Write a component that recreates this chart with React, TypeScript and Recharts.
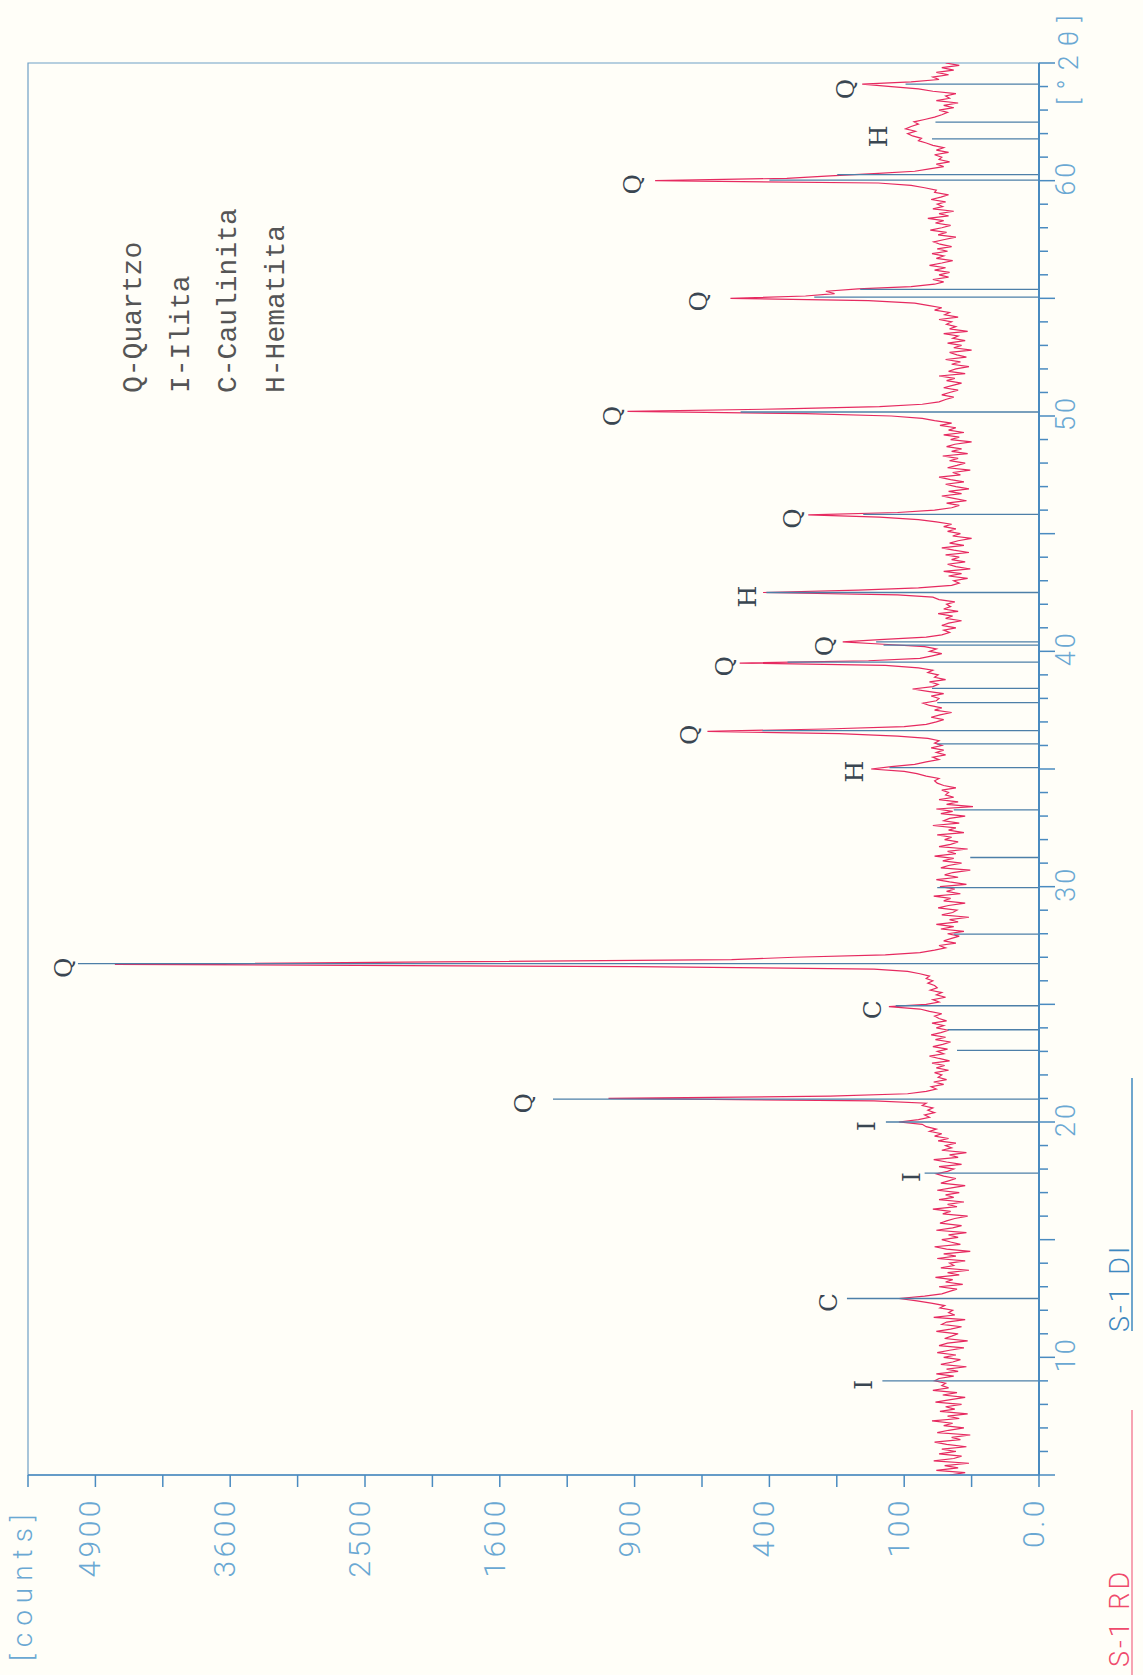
import React from "react";
import {
  ComposedChart,
  Line,
  Scatter,
  XAxis,
  YAxis,
  ReferenceLine,
  ReferenceArea,
} from "recharts";

// diffractogram S-1, scan 5.0 .. 65.0 °2θ, step 0.1
const scanStart = 5;
const scanStep = 0.1;
// counts per step (one row = one degree)
const counts = [
  44, 30, 58, 36, 49, 27, 61, 40, 33, 55, // 5
  38, 52, 29, 47, 60, 34, 42, 26, 57, 45, // 6
  31, 50, 41, 63, 35, 46, 28, 54, 39, 48, // 7
  33, 59, 43, 30, 51, 37, 62, 45, 52, 48, // 8
  60, 55, 40, 58, 36, 47, 29, 53, 41, 34, // 9
  50, 38, 57, 44, 31, 55, 46, 28, 49, 42, // 10
  36, 58, 43, 33, 52, 47, 30, 61, 39, 45, // 11
  41, 54, 49, 64, 82, 108, 72, 52, 44, 37, // 12
  55, 32, 48, 41, 59, 35, 46, 27, 53, 40, // 13
  44, 30, 57, 38, 50, 26, 47, 60, 34, 43, // 14
  52, 36, 45, 29, 58, 41, 33, 54, 47, 39, // 15
  28, 51, 43, 62, 37, 46, 31, 55, 40, 48, // 16
  35, 57, 42, 30, 53, 45, 38, 50, 58, 46, // 17
  40, 55, 33, 47, 61, 36, 44, 29, 52, 42, // 18
  48, 38, 56, 45, 60, 52, 66, 58, 70, 75, // 19
  108, 80, 66, 72, 60, 68, 62, 75, 70, 150, // 20
  1020, 240, 95, 70, 58, 64, 50, 61, 47, 56, // 21
  52, 60, 45, 58, 49, 63, 44, 55, 66, 50, // 22
  57, 46, 62, 51, 43, 59, 48, 64, 53, 45, // 23
  58, 50, 63, 47, 55, 60, 52, 66, 78, 124, // 24
  70, 55, 62, 48, 58, 52, 65, 57, 60, 68, // 25
  62, 70, 66, 78, 95, 150, 900, 4700, 2000, 520, // 26
  330, 130, 78, 60, 48, 55, 38, 50, 42, 35, // 27
  46, 31, 53, 40, 58, 36, 44, 27, 52, 41, // 28
  37, 56, 45, 30, 50, 43, 61, 34, 47, 39, // 29
  54, 29, 44, 58, 36, 49, 41, 26, 53, 45, // 30
  33, 51, 40, 60, 38, 46, 28, 55, 43, 36, // 31
  49, 42, 57, 31, 45, 38, 62, 35, 50, 44, // 32
  30, 53, 41, 58, 24, 47, 36, 55, 40, 48, // 33
  45, 52, 38, 50, 57, 60, 55, 70, 82, 100, // 34
  155, 120, 85, 70, 55, 62, 48, 58, 50, 64, // 35
  52, 60, 55, 68, 110, 220, 605, 250, 100, 70, // 36
  58, 50, 64, 54, 42, 60, 52, 66, 74, 58, // 37
  55, 64, 50, 68, 88, 62, 56, 66, 48, 60, // 38
  56, 68, 62, 80, 130, 493, 160, 78, 64, 52, // 39
  66, 58, 72, 133, 212, 140, 70, 52, 44, 50, // 40
  38, 52, 45, 33, 48, 41, 56, 36, 50, 43, // 41
  47, 39, 55, 62, 110, 419, 180, 80, 42, 35, // 42
  40, 28, 45, 33, 50, 26, 38, 46, 30, 42, // 43
  35, 48, 27, 40, 52, 31, 44, 36, 25, 41, // 44
  34, 46, 38, 50, 42, 58, 80, 140, 293, 110, // 45
  60, 42, 35, 47, 29, 40, 52, 33, 45, 27, // 46
  38, 48, 31, 43, 55, 34, 41, 26, 46, 37, // 47
  30, 44, 36, 51, 28, 42, 33, 47, 39, 25, // 48
  43, 35, 50, 31, 45, 38, 54, 42, 60, 75, // 49
  120, 300, 932, 360, 140, 75, 55, 48, 40, 52, // 50
  44, 36, 50, 41, 33, 47, 39, 55, 30, 45, // 51
  38, 27, 42, 34, 48, 29, 37, 44, 25, 40, // 52
  33, 46, 30, 41, 36, 50, 28, 44, 38, 47, // 53
  42, 55, 36, 49, 44, 60, 52, 68, 85, 160, // 54
  524, 300, 230, 250, 180, 90, 60, 50, 62, 45, // 55
  55, 44, 60, 48, 66, 52, 41, 58, 50, 63, // 56
  46, 57, 42, 54, 61, 49, 38, 56, 47, 65, // 57
  52, 43, 59, 50, 68, 45, 55, 40, 62, 51, // 58
  57, 48, 64, 53, 45, 60, 58, 72, 90, 142, // 59
  811, 350, 240, 150, 85, 66, 50, 58, 44, 55, // 60
  52, 60, 45, 58, 50, 62, 70, 80, 76, 88, // 61
  95, 84, 98, 90, 80, 86, 72, 60, 52, 46, // 62
  55, 40, 50, 36, 58, 44, 48, 38, 62, 80, // 63
  120, 172, 90, 55, 62, 45, 58, 40, 52, 35, // 64
  48,
];

// reference pattern sticks
const stickTheta = [
  9.0, 12.5, 17.83, 20.0, 20.97, 23.04, 23.92, 24.94, 26.73, 27.98, 29.96,
  31.24, 33.26, 35.06, 36.07, 36.63, 37.82, 38.43, 39.54, 40.26, 40.4, 42.5,
  45.82, 50.17, 55.05, 55.38, 60.02, 60.26, 61.78, 62.49, 64.1,
];
const stickCounts = [
  135, 203, 72, 129, 1300, 37, 46, 113, 5083, 40, 57,
  26, 40, 123, 57, 421, 57, 63, 348, 133, 146, 409,
  170, 490, 278, 176, 400, 224, 63, 59, 98,
];

// phase letters over the peaks
const peakLabels = [
  { theta: 9.0, counts: 152, letter: "I" },
  { theta: 12.5, counts: 223, letter: "C" },
  { theta: 17.83, counts: 76, letter: "I" },
  { theta: 20.0, counts: 146, letter: "I" },
  { theta: 20.97, counts: 1388, letter: "Q" },
  { theta: 24.94, counts: 135, letter: "C" },
  { theta: 26.73, counts: 5098, letter: "Q" },
  { theta: 35.06, counts: 168, letter: "H" },
  { theta: 36.63, counts: 620, letter: "Q" },
  { theta: 39.54, counts: 500, letter: "Q" },
  { theta: 40.4, counts: 223, letter: "Q" },
  { theta: 42.5, counts: 439, letter: "H" },
  { theta: 45.82, counts: 300, letter: "Q" },
  { theta: 50.17, counts: 940, letter: "Q" },
  { theta: 55.05, counts: 590, letter: "Q" },
  { theta: 60.02, counts: 850, letter: "Q" },
  { theta: 62.05, counts: 125, letter: "H" },
  { theta: 64.07, counts: 179, letter: "Q" },
];

const countTicks = [
  0, 25, 100, 225, 400, 625, 900, 1225, 1600, 2025, 2500, 3025, 3600, 4225,
  4900, 5625,
];
const countLabels = [0, 100, 400, 900, 1600, 2500, 3600, 4900];
const thetaLabels = [10, 20, 30, 40, 50, 60];
const thetaTicks = Array.from({ length: 61 }, (_v, i) => 5 + i);
const legendLines = ["Q-Quartzo", "I-Ilita", "C-Caulinita", "H-Hematita"];

const trace = counts.map((c, i) => ({
  theta: +(scanStart + i * scanStep).toFixed(1),
  counts: c,
}));

// chart is drawn landscape and turned a quarter to the left, like the print
const W = 1675;
const H = 1143;
const AXIS = "#4a8bc0";
const FRAME = "#6f9fc6";
const TICK_TEXT = "#6aa8d3";
const STICK = "#4d7fa8";
const TRACE = "#e62a60";
const THIN = "Roboto, 'DejaVu Sans', sans-serif";
const COURIER = "'Liberation Mono', monospace";
const SLAB = "'DejaVu Serif', serif";

function CountTick(props: any) {
  const { x, y, payload } = props;
  const v = payload.value;
  if (!countLabels.includes(v)) return <g />;
  return (
    <text
      x={x}
      y={y + 5}
      textAnchor="end"
      fontFamily={THIN}
      fontWeight={300}
      fontSize={30}
      letterSpacing={3.5}
      fill={TICK_TEXT}
    >
      {v === 0 ? "0.0" : v}
    </text>
  );
}

function ThetaTick(props: any) {
  const { x, y, payload } = props;
  const v = payload.value;
  const long = v % 5 === 0;
  return (
    <g>
      <line x1={x} y1={y} x2={x} y2={y + (long ? 16 : 9)} stroke={AXIS} strokeWidth={1.5} />
      {thetaLabels.includes(v) && (
        <text
          x={x + 3}
          y={y + 36}
          textAnchor="middle"
          fontFamily={THIN}
          fontWeight={300}
          fontSize={27}
          letterSpacing={3}
          fill={TICK_TEXT}
        >
          {v}
        </text>
      )}
    </g>
  );
}

function PeakLetter(props: any) {
  const { cx, cy, payload } = props;
  return (
    <text
      x={cx - 4}
      y={cy - (payload.letter === "Q" ? 5 : 1)}
      textAnchor="middle"
      fontFamily={SLAB}
      fontSize={25}
      fill="#3a4651"
    >
      {payload.letter}
    </text>
  );
}

export default function App() {
  return (
    <div
      style={{
        position: "absolute",
        left: 0,
        top: 0,
        width: H,
        height: W,
        overflow: "hidden",
        background: "#fffef8",
      }}
    >
      <div
        style={{
          position: "absolute",
          left: 0,
          top: 0,
          width: W,
          height: H,
          transformOrigin: "0 0",
          transform: `translate(0px, ${W}px) rotate(-90deg)`,
        }}
      >
        <ComposedChart
          width={W}
          height={H}
          data={trace}
          margin={{ top: 28, right: 63, bottom: 0, left: 0 }}
        >
          <XAxis
            type="number"
            dataKey="theta"
            domain={[5, 65]}
            ticks={thetaTicks}
            interval={0}
            tick={(p: any) => <ThetaTick {...p} />}
            tickLine={false}
            tickSize={0}
            tickMargin={0}
            height={104}
            axisLine={{ stroke: AXIS, strokeWidth: 2 }}
            allowDataOverflow
          />
          <YAxis
            type="number"
            dataKey="counts"
            scale="sqrt"
            domain={[0, 5625]}
            ticks={countTicks}
            interval={0}
            tick={(p: any) => <CountTick {...p} />}
            tickSize={12}
            tickMargin={10}
            width={200}
            tickLine={{ stroke: AXIS, strokeWidth: 1.5 }}
            axisLine={{ stroke: AXIS, strokeWidth: 1.5 }}
            allowDataOverflow
          />
          <ReferenceArea
            x1={5}
            x2={65}
            y1={0}
            y2={5625}
            fill="none"
            stroke={FRAME}
            strokeWidth={1.2}
            ifOverflow="visible"
          />
          <Line
            type="linear"
            dataKey="counts"
            stroke={TRACE}
            strokeWidth={1.2}
            dot={false}
            isAnimationActive={false}
          />
          {stickTheta.map((t, i) => (
            <ReferenceLine
              key={i}
              segment={[
                { x: t, y: 0 },
                { x: t, y: stickCounts[i] },
              ]}
              stroke={STICK}
              strokeWidth={1.3}
              ifOverflow="visible"
            />
          ))}
          <Scatter
            data={peakLabels}
            dataKey="counts"
            shape={(p: any) => <PeakLetter {...p} />}
            isAnimationActive={false}
          />
        </ComposedChart>

        <svg
          width={W}
          height={H}
          style={{ position: "absolute", left: 0, top: 0, pointerEvents: "none" }}
        >
          <text x={14} y={32} fontFamily={THIN} fontWeight={300} fontSize={28} letterSpacing={7} fill={TICK_TEXT}>
            [counts]
          </text>
          <text x={1570} y={1078} fontFamily={THIN} fontWeight={300} fontSize={27} letterSpacing={9} fill={TICK_TEXT}>
            [°2θ]
          </text>
          {legendLines.map((s, i) => (
            <text
              key={s}
              x={1282}
              y={141 + i * 47.7}
              fontFamily={COURIER}
              fontSize={28}
              fill="#555555"
            >
              {s}
            </text>
          ))}
          <text x={343} y={1129} fontFamily={THIN} fontWeight={300} fontSize={27} letterSpacing={3} fill="#3f88bf">
            S-1 DI
          </text>
          <line x1={344} y1={1132} x2={597} y2={1132} stroke="#3f88bf" strokeWidth={1.5} />
          <text x={8} y={1129} fontFamily={THIN} fontWeight={300} fontSize={27} letterSpacing={3} fill="#ef4a6c">
            S-1 RD
          </text>
          <line x1={0} y1={1132} x2={265} y2={1132} stroke="#ef4a6c" strokeWidth={1} />
        </svg>
      </div>
    </div>
  );
}
